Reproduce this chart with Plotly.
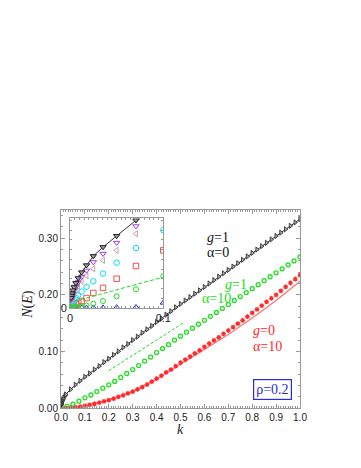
import plotly.graph_objects as go

# ---------------- data ----------------
# main panel
k_black = [0.0011, 0.0016, 0.0022, 0.0031, 0.0044, 0.00625, 0.0088, 0.0125, 0.0177,
           0.02, 0.04, 0.06, 0.08, 0.10, 0.12, 0.14, 0.16, 0.18, 0.20, 0.22, 0.24, 0.26, 0.28, 0.30,
           0.32, 0.34, 0.36, 0.38, 0.40, 0.42, 0.44, 0.46, 0.48, 0.50, 0.52, 0.54, 0.56, 0.58, 0.60,
           0.62, 0.64, 0.66, 0.68, 0.70, 0.72, 0.74, 0.76, 0.78, 0.80, 0.82, 0.84, 0.86, 0.88, 0.90,
           0.92, 0.94, 0.96, 0.98, 1.00]
n_black = [0.0053, 0.0064, 0.0076, 0.0092, 0.0108, 0.0129, 0.0154, 0.0184, 0.022,
           0.024, 0.033, 0.041, 0.048, 0.055, 0.061, 0.068, 0.074, 0.081, 0.087, 0.094, 0.100, 0.107, 0.113, 0.120,
           0.126, 0.133, 0.139, 0.145, 0.152, 0.158, 0.165, 0.171, 0.178, 0.184, 0.190, 0.196, 0.202, 0.208, 0.214,
           0.220, 0.226, 0.232, 0.238, 0.244, 0.250, 0.256, 0.262, 0.268, 0.274, 0.280, 0.286, 0.292, 0.298, 0.304,
           0.310, 0.316, 0.322, 0.328, 0.334]

k_green = [0.0, 0.025, 0.05, 0.075, 0.1, 0.125, 0.15, 0.175, 0.2, 0.225, 0.25, 0.275, 0.3, 0.325, 0.35,
           0.375, 0.4, 0.425, 0.45, 0.475, 0.5, 0.525, 0.55, 0.575, 0.6, 0.625, 0.65, 0.675, 0.7,
           0.725, 0.75, 0.775, 0.8, 0.825, 0.85, 0.875, 0.9, 0.925, 0.95, 0.975, 1.0]
n_green = [0.0, 0.003, 0.007, 0.012, 0.018, 0.023, 0.029, 0.035, 0.041, 0.047, 0.054, 0.061, 0.068, 0.075, 0.083,
           0.090, 0.098, 0.105, 0.112, 0.120, 0.127, 0.134, 0.141, 0.148, 0.155, 0.162, 0.169, 0.176, 0.183,
           0.190, 0.197, 0.204, 0.211, 0.218, 0.225, 0.232, 0.239, 0.246, 0.253, 0.260, 0.267]

k_green_dash = [0.20, 0.51]
n_green_dash = [0.066, 0.150]

k_red = [0.0, 0.02, 0.04, 0.06, 0.08, 0.10, 0.12, 0.14, 0.16, 0.18, 0.20, 0.22, 0.24, 0.26, 0.28, 0.30,
         0.32, 0.34, 0.36, 0.38, 0.40, 0.42, 0.44, 0.46, 0.48, 0.50, 0.52, 0.54, 0.56, 0.58, 0.60,
         0.62, 0.64, 0.66, 0.68, 0.70, 0.72, 0.74, 0.76, 0.78, 0.80, 0.82, 0.84, 0.86, 0.88, 0.90,
         0.92, 0.94, 0.96, 0.98, 1.00]
n_red = [0.0, 0.0003, 0.0007, 0.0014, 0.0025, 0.004, 0.0055, 0.0075, 0.0095, 0.0117, 0.014, 0.0166, 0.0195,
         0.0225, 0.0257, 0.029, 0.033, 0.037, 0.0415, 0.0465, 0.052, 0.057, 0.063, 0.068, 0.074, 0.080,
         0.0855, 0.091, 0.0965, 0.102, 0.108, 0.114, 0.1195, 0.125, 0.131, 0.137, 0.143, 0.149, 0.155,
         0.1615, 0.168, 0.1745, 0.181, 0.1875, 0.194, 0.200, 0.207, 0.214, 0.221, 0.228, 0.235]

k_red_line = [0.0, 0.1, 0.2, 0.3, 0.4, 0.5, 0.6, 0.7, 0.8, 0.9, 1.0]
n_red_line = [0.0, 0.004, 0.014, 0.029, 0.051, 0.077, 0.103, 0.130, 0.159, 0.190, 0.224]

# inset panel
k_in = [0.1, 0.0707, 0.05, 0.0354, 0.025, 0.0177, 0.0125, 0.0088, 0.00625, 0.0044, 0.0031, 0.0022, 0.0016, 0.0011]
n_in_black = [None, 0.045, 0.037, 0.0313, 0.0267, 0.022, 0.0184, 0.0154, 0.0129, 0.0108, 0.0092, 0.0076, 0.0064, 0.0053]
n_in_purple = [None, 0.042, 0.0335, 0.0279, 0.0236, 0.0193, 0.0161, 0.0133, 0.011, 0.0092, 0.0076, 0.0064, 0.0053, 0.0044]
n_in_tan = [None, 0.0381, 0.0296, 0.0245, 0.0202, 0.0166, 0.0138, 0.0113, 0.0092, 0.0076, 0.0062, 0.0051, 0.0041, 0.0035]
n_in_cyan = [0.0399, 0.0308, 0.0233, 0.0177, 0.0138, 0.0109, 0.0085, 0.0067, 0.0053, 0.0041, 0.0032, 0.0025, 0.0021, 0.0016]
n_in_red = [0.0296, 0.0216, 0.0151, 0.0104, 0.0078, 0.0052, 0.0037, 0.0028, 0.0021, 0.0016, 0.0012, 0.0009, 0.0007, 0.0006]
n_in_green = [0.0164, 0.0097, 0.0061, 0.0037, 0.0023, 0.0014, 0.0009, 0.0006, 0.0004, 0.0003, 0.0002, 0.0002, 0.0001, 0.0001]
n_in_blue = [0.0028, 0.0005, 0.0004, 0.0003, 0.0003, 0.0002, 0.0002, 0.0001, 0.0001, 0.0001, 0.0001, 0.0, 0.0, 0.0]
k_in_dash = [0.005, 0.1]
n_in_dash = [0.0036, 0.0159]

x_ticks = [0.0, 0.1, 0.2, 0.3, 0.4, 0.5, 0.6, 0.7, 0.8, 0.9, 1.0]
x_tick_text = ["0.0", "0.1", "0.2", "0.3", "0.4", "0.5", "0.6", "0.7", "0.8", "0.9", "1.0"]
y_ticks = [0.0, 0.1, 0.2, 0.3]
y_tick_text = ["0.00", "0.10", "0.20", "0.30"]

# ---------------- colours ----------------
C_GREEN = "#22dd22"
C_RED = "#ff2a2a"
C_BLUE = "#2a2ae0"

fig = go.Figure()

# main panel traces
fig.add_trace(go.Scatter(x=k_red_line, y=n_red_line, mode="lines",
                         line=dict(color="#ff7070", width=1.2), xaxis="x", yaxis="y"))
fig.add_trace(go.Scatter(x=k_red, y=n_red, mode="markers",
                         marker=dict(symbol="asterisk-open", size=4, color=C_RED,
                                     line=dict(color=C_RED, width=1.2)), xaxis="x", yaxis="y"))
fig.add_trace(go.Scatter(x=k_green_dash, y=n_green_dash, mode="lines",
                         line=dict(color=C_GREEN, width=1, dash="3px,2px"), xaxis="x", yaxis="y"))
fig.add_trace(go.Scatter(x=k_green, y=n_green, mode="markers",
                         marker=dict(symbol="circle-open", size=4, color=C_GREEN,
                                     line=dict(color=C_GREEN, width=1.3)), xaxis="x", yaxis="y"))
fig.add_trace(go.Scatter(x=k_black, y=n_black, mode="lines+markers",
                         line=dict(color="#333333", width=1),
                         marker=dict(symbol="triangle-right", size=4.5, color="#aaaaaa",
                                     line=dict(color="#222222", width=0.8)), xaxis="x", yaxis="y"))

# inset traces
def inset(y, sym, col, size=5.5):
    fig.add_trace(go.Scatter(x=k_in, y=y, mode="markers",
                             marker=dict(symbol=sym, size=size, color=col,
                                         line=dict(color=col, width=1)),
                             xaxis="x2", yaxis="y2"))

inset(n_in_blue, "triangle-up-open", C_BLUE)
inset(n_in_red, "square-open", "#ee5050")
inset(n_in_cyan, "circle-open", "#00e0ff")
inset(n_in_tan, "triangle-left-open", "#c8a0a0")
inset(n_in_purple, "triangle-down-open", "#9a3de0")
fig.add_trace(go.Scatter(x=k_in_dash, y=n_in_dash, mode="lines",
                         line=dict(color=C_GREEN, width=1, dash="4px,2px"), xaxis="x2", yaxis="y2"))
inset(n_in_green, "circle-open", C_GREEN, size=5)
fig.add_trace(go.Scatter(x=k_in, y=n_in_black, mode="lines+markers",
                         line=dict(color="#333333", width=1),
                         marker=dict(symbol="triangle-down", size=5.5, color="#999999",
                                     line=dict(color="#222222", width=1)),
                         xaxis="x2", yaxis="y2"))

axis_common = dict(showline=True, linecolor="#999999", linewidth=1, mirror="allticks",
                   ticks="inside", tickcolor="#999999", ticklen=4, showgrid=False, zeroline=False,
                   tickfont=dict(family="Liberation Sans, Arial", size=10, color="#222222"))
inset_axis = {**axis_common, "ticklen": 3,
              "tickfont": dict(family="Liberation Sans, Arial", size=11, color="#222222")}

# page body has an 8px offset: plot area in window = x 61..300, y 210..408
L, T = 53, 202
fig.update_layout(
    width=361, height=468,
    margin=dict(l=L, r=361 - (300 - 8), t=T, b=468 - (408 - 8)),
    paper_bgcolor="white", plot_bgcolor="white",
    showlegend=False,
    xaxis=dict(range=[0, 1.0], tickvals=x_ticks, ticktext=x_tick_text, domain=[0, 1],
               minor=dict(ticks="inside", dtick=0.01, ticklen=2, tickcolor="#999999"),
               **axis_common),
    yaxis=dict(range=[0, 0.35], tickvals=y_ticks, ticktext=y_tick_text, domain=[0, 1],
               minor=dict(ticks="inside", dtick=0.02, ticklen=2, tickcolor="#999999"),
               **axis_common),
    xaxis2=dict(range=[0, 0.1], tickvals=[0, 0.1], ticktext=["0", "0.1"],
                domain=[0.0377, 0.428], anchor="y2",
                minor=dict(ticks="inside", dtick=0.005, ticklen=2, tickcolor="#999999"),
                **inset_axis),
    yaxis2=dict(range=[0, 0.046], tickvals=[0], ticktext=["0"],
                domain=[0.504, 0.958], anchor="x2",
                minor=dict(ticks="inside", dtick=0.005, ticklen=2, tickcolor="#999999"),
                **inset_axis),
)

serif = "Liberation Serif, Times New Roman, serif"

def label(text, x, y, color, size=14, xanchor="left"):
    fig.add_annotation(text=text, x=x, y=y, xref="x", yref="y", showarrow=False,
                       xanchor=xanchor, yanchor="middle",
                       font=dict(family=serif, size=size, color=color))

label("<i>g</i>=1", 0.603, 0.302, "#111111")
label("α=0", 0.603, 0.274, "#111111")
label("<i>g</i>=1", 0.676, 0.218, C_GREEN)
label("α=10", 0.580, 0.193, C_GREEN)
label("<i>g</i>=0", 0.796, 0.137, C_RED)
label("α=10", 0.794, 0.108, C_RED)

fig.add_annotation(text="ρ=0.2", x=0.883, y=0.033, xref="x", yref="y", showarrow=False,
                   xanchor="center", yanchor="middle",
                   font=dict(family=serif, size=14, color=C_BLUE),
                   bordercolor=C_BLUE, borderwidth=1.2, borderpad=2, bgcolor="white")

# axis titles
fig.add_annotation(text="<i>N</i>(<i>E</i>)", x=(28 - 61) / 239, y=(408.3 - 305) / 198.3,
                   xref="paper", yref="paper", xanchor="center", yanchor="middle",
                   showarrow=False, textangle=-90,
                   font=dict(family=serif, size=14, color="#222222"))
fig.add_annotation(text="<i>k</i>", x=(180 - 61) / 239, y=(408.3 - 430) / 198.3,
                   xref="paper", yref="paper", xanchor="center", yanchor="middle",
                   showarrow=False, font=dict(family=serif, size=14, color="#222222"))

fig.write_html("out.html")
